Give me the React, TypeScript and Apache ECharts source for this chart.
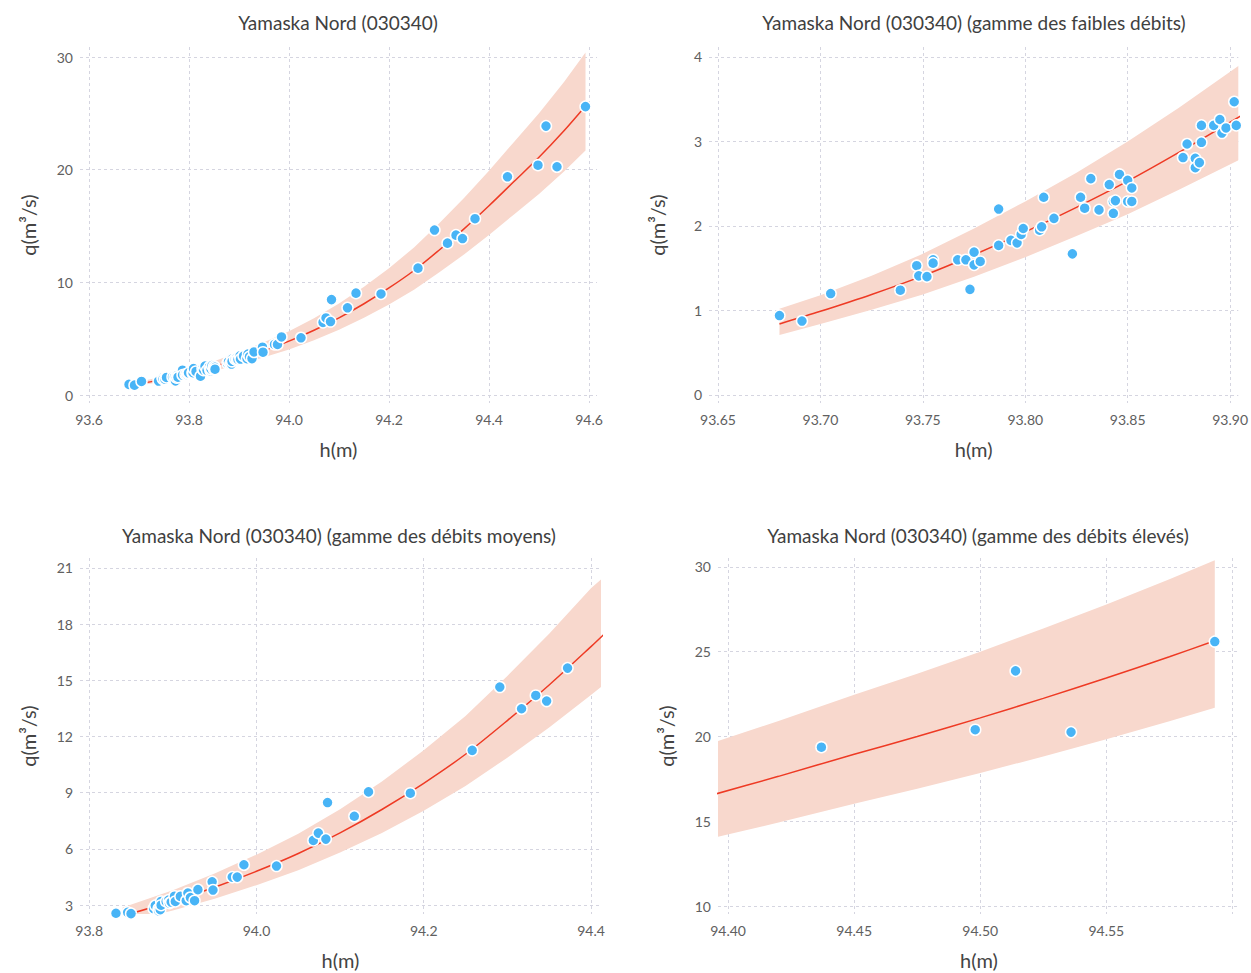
import React, { useEffect, useRef } from "react";
import * as echarts from "echarts";

// Observed gauge readings: h (m) and q (m3/s)
const H = [
  93.680, 93.691, 93.705, 93.739, 93.747, 93.748, 93.752, 93.755, 93.755, 93.767,
  93.771, 93.773, 93.775, 93.775, 93.778, 93.787, 93.787, 93.793, 93.796, 93.798,
  93.799, 93.807, 93.808, 93.809, 93.814, 93.823, 93.827, 93.829, 93.832, 93.836,
  93.841, 93.843, 93.843, 93.844, 93.846, 93.850, 93.850, 93.852, 93.852, 93.877,
  93.879, 93.883, 93.883, 93.885, 93.886, 93.886, 93.892, 93.895, 93.896, 93.898,
  93.902, 93.903, 93.909, 93.916, 93.918, 93.921, 93.926, 93.930, 93.947, 93.948,
  93.971, 93.977, 93.985, 94.024, 94.068, 94.074, 94.083, 94.085, 94.117, 94.134,
  94.184, 94.258, 94.291, 94.317, 94.334, 94.347, 94.372, 94.437, 94.498, 94.514,
  94.536, 94.593,
];
const Q = [
  0.94, 0.875, 1.20, 1.24, 1.53, 1.41, 1.40, 1.60, 1.56, 1.60,
  1.60, 1.25, 1.69, 1.54, 1.58, 2.20, 1.77, 1.83, 1.80, 1.90,
  1.97, 1.95, 1.99, 2.34, 2.09, 1.67, 2.34, 2.21, 2.56, 2.19,
  2.49, 2.15, 2.29, 2.30, 2.61, 2.54, 2.29, 2.45, 2.29, 2.81,
  2.97, 2.80, 2.69, 2.75, 3.19, 2.99, 3.19, 3.26, 3.10, 3.16,
  3.47, 3.19, 3.46, 3.23, 3.64, 3.40, 3.23, 3.82, 4.24, 3.80,
  4.49, 4.49, 5.15, 5.08, 6.45, 6.84, 6.52, 8.47, 7.74, 9.04,
  8.97, 11.26, 14.64, 13.48, 14.19, 13.89, 15.65, 19.37, 20.40, 23.87,
  20.26, 25.60,
];

// Fitted curves and their bands
const ALL_H = [93.68, 93.70, 93.75, 93.80, 93.85, 93.90, 93.95, 94.00, 94.05, 94.10, 94.15, 94.20, 94.25, 94.30, 94.35, 94.40, 94.45, 94.50, 94.55, 94.593];
const ALL_Q = [0.84, 0.99, 1.41, 1.93, 2.53, 3.20, 3.95, 4.78, 5.75, 6.85, 8.10, 9.50, 11.05, 12.85, 14.75, 16.80, 18.95, 21.10, 23.45, 25.65];
const ALL_LO = [0.71, 0.84, 1.19, 1.63, 2.14, 2.71, 3.34, 4.04, 4.86, 5.80, 6.85, 8.04, 9.35, 10.87, 12.48, 14.21, 16.03, 17.85, 19.84, 21.70];
const ALL_HI = [1.00, 1.17, 1.67, 2.29, 3.00, 3.79, 4.68, 5.66, 6.81, 8.12, 9.60, 11.26, 13.09, 15.23, 17.48, 19.91, 22.46, 25.00, 27.79, 30.40];

const LOW_H = [93.68, 93.70, 93.725, 93.75, 93.775, 93.80, 93.825, 93.85, 93.875, 93.905];
const LOW_Q = [0.84, 0.99, 1.19, 1.41, 1.66, 1.93, 2.22, 2.53, 2.87, 3.30];
const LOW_LO = [0.71, 0.84, 1.01, 1.19, 1.40, 1.63, 1.88, 2.14, 2.43, 2.79];
const LOW_HI = [1.02, 1.18, 1.41, 1.67, 1.97, 2.29, 2.63, 3.00, 3.40, 3.91];

const MID_H = [93.84, 93.90, 93.95, 94.00, 94.05, 94.10, 94.15, 94.20, 94.25, 94.30, 94.35, 94.40, 94.42];
const MID_Q = [2.42, 3.20, 3.95, 4.80, 5.75, 6.85, 8.10, 9.50, 11.05, 12.85, 14.75, 16.80, 17.65];
const MID_LO = [2.05, 2.71, 3.34, 4.06, 4.86, 5.80, 6.85, 8.04, 9.35, 10.87, 12.48, 14.21, 14.93];
const MID_HI = [2.87, 3.79, 4.68, 5.69, 6.81, 8.12, 9.60, 11.26, 13.09, 15.23, 17.48, 19.91, 20.70];

const HIGH_H = [94.39, 94.42, 94.45, 94.475, 94.50, 94.525, 94.55, 94.575, 94.593];
const HIGH_Q = [16.40, 17.65, 18.95, 20.00, 21.10, 22.25, 23.45, 24.70, 25.65];
const HIGH_LO = [13.87, 14.93, 16.03, 16.92, 17.85, 18.82, 19.84, 20.90, 21.70];
const HIGH_HI = [19.43, 20.92, 22.46, 23.70, 25.00, 26.37, 27.79, 29.27, 30.40];

const TITLES = [
  "Yamaska Nord (030340)",
  "Yamaska Nord (030340) (gamme des faibles débits)",
  "Yamaska Nord (030340) (gamme des débits moyens)",
  "Yamaska Nord (030340) (gamme des débits élevés)",
];

const FONT = "Lato, 'Open Sans', sans-serif";
const BLUE = "#48b4f6";
const RED = "#ee3a24";
const BAND = "#f8d8cd";
const GRIDC = "#d5d5e0";

const GRIDS = [
  { left: 80, top: 47, width: 517, height: 356 },
  { left: 709, top: 47, width: 531, height: 356 },
  { left: 80, top: 558, width: 521, height: 356 },
  { left: 718, top: 558, width: 522, height: 356 },
];
const XR = [
  { min: 93.582, max: 94.616, step: 0.2, dec: 1, hideAbove: 99 },
  { min: 93.6456, max: 93.904, step: 0.05, dec: 2, hideAbove: 99 },
  { min: 93.789, max: 94.412, step: 0.2, dec: 1, hideAbove: 99 },
  { min: 94.396, max: 94.603, step: 0.05, dec: 2, hideAbove: 94.58 },
];
const YR = [
  { min: -0.71, max: 30.89, step: 10 },
  { min: -0.095, max: 4.118, step: 1 },
  { min: 2.52, max: 21.53, step: 3 },
  { min: 9.53, max: 30.53, step: 5 },
];

const CURVES = [
  { h: ALL_H, q: ALL_Q, lo: ALL_LO, hi: ALL_HI },
  { h: LOW_H, q: LOW_Q, lo: LOW_LO, hi: LOW_HI },
  { h: MID_H, q: MID_Q, lo: MID_LO, hi: MID_HI },
  { h: HIGH_H, q: HIGH_Q, lo: HIGH_LO, hi: HIGH_HI },
];

export default function App() {
  const ref = useRef<HTMLDivElement>(null);
  useEffect(() => {
    if (!ref.current) return;
    const chart = echarts.init(ref.current, null, { renderer: "svg" });
    const points = H.map((h, i) => [h, Q[i]]);

    const xAxis = XR.map((r, i) => ({
      type: "value",
      gridIndex: i,
      min: r.min,
      max: r.max,
      minInterval: r.step,
      maxInterval: r.step,
      splitNumber: 5,
      name: "h(m)",
      nameLocation: "middle",
      nameGap: 36,
      nameTextStyle: { fontFamily: FONT, fontSize: 20, color: "#444" },
      axisLine: { show: false },
      axisTick: { show: false },
      axisLabel: {
        showMinLabel: false,
        showMaxLabel: false,
        margin: 9,
        fontFamily: FONT,
        fontSize: 14,
        color: "#606060",
        formatter: (v: number) => (v > r.hideAbove ? "" : v.toFixed(r.dec)),
      },
      splitLine: {
        show: true,
        showMinLine: false,
        showMaxLine: false,
        lineStyle: { color: GRIDC, type: [3, 3], width: 1 },
      },
    }));
    const yAxis = YR.map((r, i) => ({
      type: "value",
      gridIndex: i,
      min: r.min,
      max: r.max,
      minInterval: r.step,
      maxInterval: r.step,
      splitNumber: 4,
      name: "q(m³/s)",
      nameLocation: "middle",
      nameRotate: 90,
      nameGap: 42,
      nameTextStyle: { fontFamily: FONT, fontSize: 20, color: "#444" },
      axisLine: { show: false },
      axisTick: { show: false },
      axisLabel: {
        showMinLabel: false,
        showMaxLabel: false,
        margin: 7,
        fontFamily: FONT,
        fontSize: 14,
        color: "#606060",
      },
      splitLine: {
        show: true,
        showMinLine: false,
        showMaxLine: false,
        lineStyle: { color: GRIDC, type: [3, 3], width: 1 },
      },
    }));

    const series: any[] = [];
    CURVES.forEach((c, i) => {
      series.push({
        type: "custom",
        xAxisIndex: i,
        yAxisIndex: i,
        data: c.h.map((h, k) => [h, c.lo[k], c.hi[k]]),
        encode: { x: 0, y: [1, 2] },
        silent: true,
        z: 1,
        renderItem: (params: any, api: any) => {
          if (params.dataIndex !== 0) return null;
          const upper = c.h.map((h, k) => api.coord([h, c.hi[k]]));
          const lower = c.h.map((h, k) => api.coord([h, c.lo[k]])).reverse();
          const cs = params.coordSys;
          return {
            type: "polygon",
            shape: { points: upper.concat(lower) },
            style: { fill: BAND },
            clipPath: {
              type: "rect",
              shape: { x: cs.x, y: cs.y, width: cs.width, height: cs.height },
            },
          };
        },
      });
      series.push({
        type: "line",
        xAxisIndex: i,
        yAxisIndex: i,
        data: c.h.map((h, k) => [h, c.q[k]]),
        symbol: "none",
        smooth: 0.3,
        lineStyle: { color: RED, width: 1.5 },
        z: 2,
      });
      series.push({
        type: "scatter",
        xAxisIndex: i,
        yAxisIndex: i,
        data: points,
        symbolSize: 11,
        itemStyle: { color: BLUE, borderColor: "#fff", borderWidth: 1.5, opacity: 1 },
        z: 3,
      });
    });

    const titlePos = [
      [338, 22],
      [974, 22],
      [339, 535],
      [978, 535],
    ];
    const graphic = TITLES.map((t, i) => ({
      type: "text",
      x: titlePos[i][0],
      y: titlePos[i][1],
      style: {
        text: t,
        textAlign: "center",
        textVerticalAlign: "middle",
        font: `19px ${FONT}`,
        fill: "#404040",
      },
    }));

    chart.setOption({
      animation: false,
      backgroundColor: "#fff",
      grid: GRIDS.map((g) => ({ ...g, containLabel: false })),
      xAxis,
      yAxis,
      series,
      graphic,
    });
    return () => chart.dispose();
  }, []);
  return (
    <div
      ref={ref}
      style={{ position: "fixed", left: 0, top: 0, width: 1251, height: 973 }}
    />
  );
}
